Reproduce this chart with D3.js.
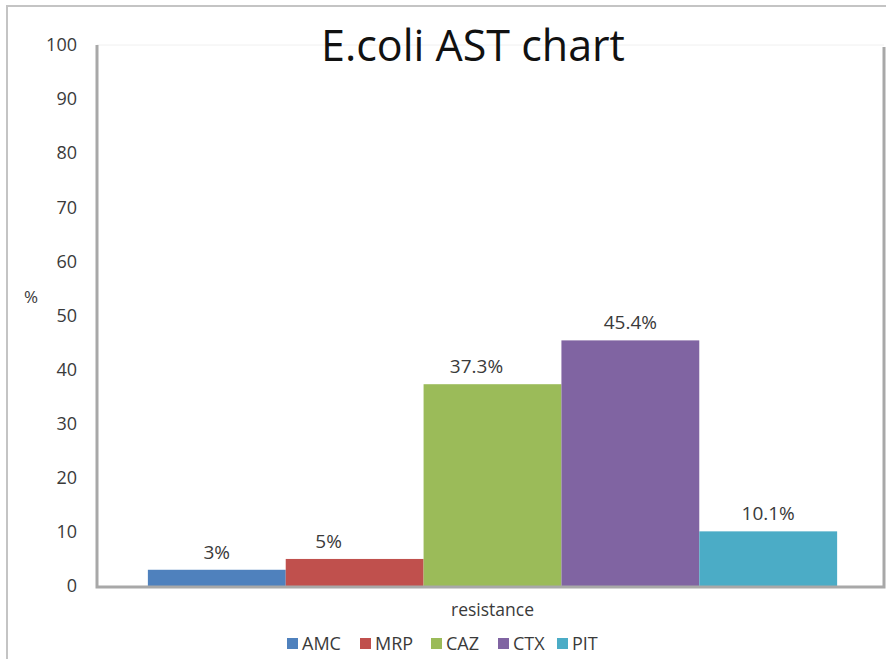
<!DOCTYPE html>
<html>
<head>
<meta charset="utf-8">
<script src="https://cdn.jsdelivr.net/npm/d3@7"></script>
<style>
  body { margin: 0; background: #fff; }
  svg { display: block; font-family: "Open Sans", "Noto Sans", sans-serif; }
</style>
</head>
<body>
<svg id="chart" width="886" height="659"></svg>
<script>
let width = 886
let height = 659

// data
const drugs = ['AMC', 'MRP', 'CAZ', 'CTX', 'PIT'];
const resistance = [3, 5, 37.3, 45.4, 10.1];
const valueLabels = ['3%', '5%', '37.3%', '45.4%', '10.1%'];
const yTicks = [0, 10, 20, 30, 40, 50, 60, 70, 80, 90, 100];

const colors = ['#4f81bd', '#c0504d', '#9bbb59', '#8064a2', '#4bacc6'];
const labelNudge = [0, -26, -16, 0, 0]; // excel put a couple of labels off-centre

const plot = {left: 97, right: 884, top: 45, bottom: 586};
const textCol = '#3a3a3a';

const svg = d3.select('#chart');

// outer frame (only top + left visible in the crop)
svg.append('path')
    .attr('d', `M7,${height} V6 H${width}`)
    .attr('fill', 'none')
    .attr('stroke', '#c4c4c4')
    .attr('stroke-width', 2);

const y = d3.scaleLinear()
    .domain([0, 100])
    .range([plot.bottom, plot.top]);

// single category "resistance", the series sit side by side inside it
const x0 = d3.scaleBand()
    .domain(['resistance'])
    .range([plot.left + 4, plot.right])
    .paddingInner(0)
    .paddingOuter(0.068);

const x1 = d3.scaleBand()
    .domain(drugs)
    .range([0, x0.bandwidth()]);

// faint top line of plot area
svg.append('line')
    .attr('x1', plot.left).attr('x2', plot.right)
    .attr('y1', plot.top).attr('y2', plot.top)
    .attr('stroke', '#f0f0f0');

// y axis labels
const yAxis = d3.axisLeft(y).tickValues(yTicks).tickSize(0).tickPadding(20);
const gy = svg.append('g')
    .attr('transform', `translate(${plot.left},0)`)
    .call(yAxis);
gy.select('.domain').remove();
gy.selectAll('text')
    .attr('font-size', 18)
    .attr('fill', textCol)
    .attr('font-family', '"Open Sans", sans-serif');

// bars
const g = svg.append('g')
    .attr('transform', `translate(${x0('resistance')},0)`);

g.selectAll('rect.bar')
    .data(drugs)
    .join('rect')
    .attr('class', 'bar')
    .attr('x', d => x1(d))
    .attr('width', x1.bandwidth())
    .attr('y', (d, i) => y(resistance[i]))
    .attr('height', (d, i) => y(0) - y(resistance[i]))
    .attr('fill', (d, i) => colors[i]);

g.selectAll('text.val')
    .data(drugs)
    .join('text')
    .attr('class', 'val')
    .attr('x', (d, i) => x1(d) + x1.bandwidth() / 2 + labelNudge[i])
    .attr('y', (d, i) => y(resistance[i]) - 11)
    .attr('text-anchor', 'middle')
    .attr('font-size', 19)
    .attr('fill', textCol)
    .text((d, i) => valueLabels[i]);

// axis lines (grey, a bit heavy like the screenshot)
svg.append('path')
    .attr('d', `M${plot.left},${plot.top} V${plot.bottom + 1} H${plot.right} V${plot.top + 2}`)
    .attr('fill', 'none')
    .attr('stroke', '#a8a8a8')
    .attr('stroke-width', 3);

// axis titles
svg.append('text')
    .attr('x', 31).attr('y', 303)
    .attr('text-anchor', 'middle')
    .attr('font-size', 17)
    .attr('fill', textCol)
    .text('%');

svg.append('text')
    .attr('x', x0('resistance') + x0.bandwidth() / 2)
    .attr('y', 616)
    .attr('text-anchor', 'middle')
    .attr('font-size', 17.5)
    .attr('fill', textCol)
    .text('resistance');

// title
svg.append('text')
    .attr('x', 473).attr('y', 61)
    .attr('text-anchor', 'middle')
    .attr('font-size', 43)
    .attr('fill', '#111')
    .text('E.coli AST chart');

// legend
const legendX = [287, 360, 431, 498, 557];
const lg = svg.append('g').selectAll('g')
    .data(drugs)
    .join('g')
    .attr('transform', (d, i) => `translate(${legendX[i]},638)`);
lg.append('rect')
    .attr('width', 11).attr('height', 11)
    .attr('fill', (d, i) => colors[i]);
lg.append('text')
    .attr('x', 15).attr('y', 12)
    .attr('font-size', 18)
    .attr('fill', textCol)
    .text(d => d);
</script>
</body>
</html>
